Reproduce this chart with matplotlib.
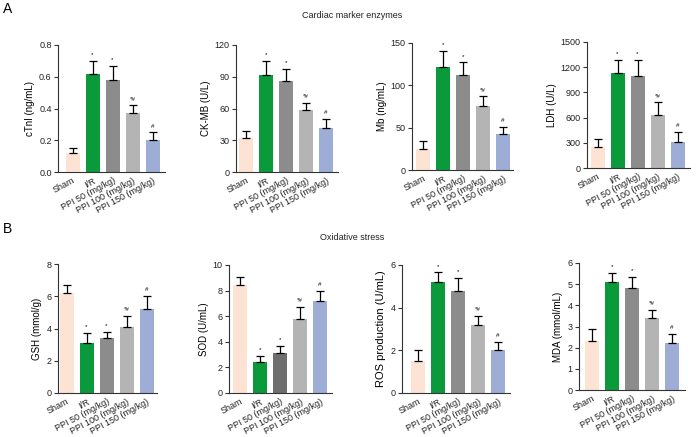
import numpy as np
import matplotlib
matplotlib.use("Agg")
import matplotlib.pyplot as plt

plt.rcParams['font.family'] = ['Liberation Sans', 'DejaVu Sans']

groups = ["Sham", "I/R", "PPI 50 (mg/kg)", "PPI 100 (mg/kg)", "PPI 150 (mg/kg)"]
colors = ["#fde3d4", "#0a9a3c", "#8c8c8c", "#b4b4b4", "#9dadd6"]

# cardiac marker enzymes
ctni = [0.12, 0.62, 0.58, 0.37, 0.20]
ctni_err = [0.03, 0.08, 0.09, 0.05, 0.05]
ckmb = [32, 92, 86, 59, 42]
ckmb_err = [7, 13, 11, 6, 8]
mb = [25, 122, 112, 76, 42]
mb_err = [9, 19, 15, 11, 9]
ldh = [250, 1125, 1090, 635, 315]
ldh_err = [100, 165, 195, 145, 115]

# oxidative stress
gsh = [6.2, 3.1, 3.4, 4.1, 5.2]
gsh_err = [0.5, 0.6, 0.4, 0.7, 0.8]
sod = [8.4, 2.4, 3.1, 5.8, 7.2]
sod_err = [0.7, 0.5, 0.6, 0.9, 0.8]
ros = [1.5, 5.2, 4.8, 3.2, 2.0]
ros_err = [0.5, 0.45, 0.6, 0.4, 0.4]
mda = [2.3, 5.1, 4.8, 3.4, 2.2]
mda_err = [0.6, 0.45, 0.55, 0.4, 0.45]

marks = ["", "*", "*", "*#", "#"]

# data, err, ylabel, ticks, fmt, box px (left, right, top, bottom), first bar centre px, label size
panels = [
    (ctni, ctni_err, "cTnI (ng/mL)", [0, 0.2, 0.4, 0.6, 0.8], "{:.1f}", (58, 165, 45, 172), 72.5, 7),
    (ckmb, ckmb_err, "CK-MB (U/L)", [0, 30, 60, 90, 120], "{:.0f}", (236, 338, 45, 172), 246, 7),
    (mb, mb_err, "Mb (ng/mL)", [0, 50, 100, 150], "{:.0f}", (412, 513, 43, 170), 423, 7),
    (ldh, ldh_err, "LDH (U/L)", [0, 300, 600, 900, 1200, 1500], "{:.0f}", (587, 690, 42, 168), 597.5, 7),
    (gsh, gsh_err, "GSH (mmol/g)", [0, 2, 4, 6, 8], "{:.0f}", (58, 157, 264, 393), 66.5, 7),
    (sod, sod_err, "SOD (U/mL)", [0, 2, 4, 6, 8, 10], "{:.0f}", (229, 332, 265, 393), 240, 7),
    (ros, ros_err, "ROS production (U/mL)", [0, 2, 4, 6], "{:.0f}", (402, 510, 265, 393), 418, 8),
    (mda, mda_err, "MDA (mmol/mL)", [0, 1, 2, 3, 4, 5, 6], "{:.0f}", (579, 685, 263, 390), 592, 7),
]

W, H = 700, 437
fig = plt.figure(figsize=(7, 4.37), dpi=100)

x = np.arange(5)
step = 20.0
for vals, errs, ylab, ticks, fmt, box, c0, lsize in panels:
    l, r, t, b = box
    ax = fig.add_axes([l / W, 1 - b / H, (r - l) / W, (b - t) / H])
    cols = list(colors)
    if ylab.startswith("SOD"):
        cols[2] = "#6e6e6e"
    ax.bar(x, vals, width=0.7, color=cols, zorder=2)
    ax.errorbar(x, vals, yerr=[np.zeros(5), errs], fmt="none", ecolor="black",
                elinewidth=0.9, capsize=3, capthick=0.9, zorder=3)
    top = ticks[-1]
    for xi, v, e, m in zip(x, vals, errs, marks):
        if m:
            ax.text(xi, v + e + top * 0.03, m, ha="center", va="bottom", fontsize=4.5)
    ax.set_ylim(0, top)
    ax.set_xlim((l - c0) / step, (r - c0) / step)
    ax.set_yticks(ticks)
    ax.set_yticklabels([fmt.format(tk) for tk in ticks], fontsize=6.5)
    ax.set_xticks(x)
    ax.set_xticklabels(groups, rotation=28, ha="right", rotation_mode="anchor", fontsize=6.5)
    ax.set_ylabel(ylab, fontsize=lsize, labelpad=3)
    for s in ["top", "right"]:
        ax.spines[s].set_visible(False)
    for s in ["left", "bottom"]:
        ax.spines[s].set_linewidth(0.8)
        ax.spines[s].set_color("#333333")
    ax.tick_params(axis="y", length=3, width=0.8, pad=1.5, colors="#333333", labelcolor="#222222")
    ax.tick_params(axis="x", length=0, pad=3, labelcolor="#222222")

fig.text(3 / W, 1 - 9 / H, "A", fontsize=10, va="center", ha="left")
fig.text(352 / W, 1 - 15 / H, "Cardiac marker enzymes", fontsize=6.5, va="center", ha="center", color="#222222")
fig.text(3 / W, 1 - 229 / H, "B", fontsize=10, va="center", ha="left")
fig.text(352 / W, 1 - 238 / H, "Oxidative stress", fontsize=6.5, va="center", ha="center", color="#222222")

fig.savefig("out.png", dpi=100)
